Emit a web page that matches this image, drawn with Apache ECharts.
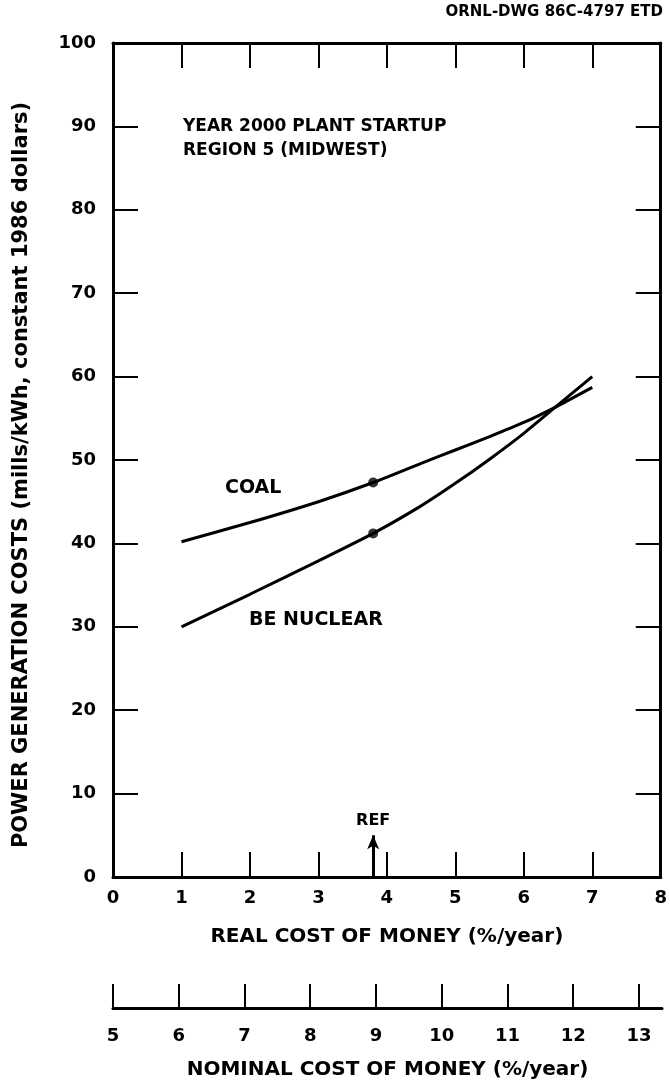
<!DOCTYPE html>
<html>
<head>
<meta charset="utf-8">
<style>
  html, body { margin: 0; padding: 0; background: #ffffff; }
  #chart { width: 670px; height: 1084px; }
</style>
<script src="https://cdn.jsdelivr.net/npm/echarts@6/dist/echarts.min.js"></script>
</head>
<body>
<div id="chart"></div>
<script>
// Real cost of money (%/year) at which costs are plotted
const realRate = [1, 2, 3, 3.8, 4.5, 5, 5.5, 6, 6.5, 7];
// Power generation costs, mills/kWh (constant 1986 dollars)
const coalCost    = [40.2, 42.5, 45.0, 47.3, 49.6, 51.2, 52.8, 54.5, 56.5, 58.7];
const nuclearCost = [30.0, 33.9, 37.9, 41.2, 44.5, 47.2, 50.1, 53.2, 56.6, 60.0];
// Reference case (marked with a dot on each curve and an arrow on the axis)
const refIndex = 3;
const refRate = realRate[refIndex];
const refArrowHeight = 5;

// Axis ranges
const realAxis = { min: 0, max: 8, interval: 1 };
const costAxis = { min: 0, max: 100, interval: 10 };
const nominalAxis = { min: 5, max: 13.35, interval: 1 };

const FONT = 'DejaVu Sans';
const INK = '#000000';

const pairs = (xs, ys) => xs.map((x, i) => [x, ys[i]]);
const boldFont = (size) => 'bold ' + size + 'px "' + FONT + '"';

const frameAxis = {
  axisLine: { show: true, onZero: false, lineStyle: { color: INK, width: 3 } },
  axisTick: { show: true, inside: true, length: 25, lineStyle: { color: INK, width: 2 } },
  splitLine: { show: false }
};
const tickLabel = { color: INK, fontFamily: FONT, fontWeight: 'bold', fontSize: 18 };
const axisTitle = { color: INK, fontFamily: FONT, fontWeight: 'bold', fontSize: 20 };

const chart = echarts.init(document.getElementById('chart'), null, { renderer: 'canvas' });

chart.setOption({
  backgroundColor: '#ffffff',
  animation: false,
  textStyle: { fontFamily: FONT, color: INK },
  grid: [
    { left: 113, top: 43, width: 549, height: 834 },
    { left: 113, top: 984, width: 549, height: 24 }
  ],
  xAxis: [
    Object.assign({}, frameAxis, {
      gridIndex: 0, type: 'value', position: 'bottom',
      min: realAxis.min, max: realAxis.max, interval: realAxis.interval,
      axisLabel: Object.assign({ margin: 12 }, tickLabel),
      name: 'REAL COST OF MONEY (%/year)', nameLocation: 'middle', nameGap: 50,
      nameTextStyle: axisTitle
    }),
    Object.assign({}, frameAxis, {
      gridIndex: 0, type: 'value', position: 'top',
      min: realAxis.min, max: realAxis.max, interval: realAxis.interval,
      axisLabel: { show: false }
    }),
    {
      gridIndex: 1, type: 'value', position: 'bottom',
      min: nominalAxis.min, max: nominalAxis.max, interval: nominalAxis.interval,
      axisLine: { show: true, onZero: false, lineStyle: { color: INK, width: 3 } },
      axisTick: { show: true, inside: true, length: 24, lineStyle: { color: INK, width: 2 } },
      splitLine: { show: false },
      axisLabel: Object.assign({ margin: 19, showMaxLabel: false }, tickLabel),
      name: 'NOMINAL COST OF MONEY (%/year)', nameLocation: 'middle', nameGap: 52,
      nameTextStyle: axisTitle
    }
  ],
  yAxis: [
    Object.assign({}, frameAxis, {
      gridIndex: 0, type: 'value', position: 'left',
      min: costAxis.min, max: costAxis.max, interval: costAxis.interval,
      axisLabel: Object.assign({ margin: 17 }, tickLabel)
    }),
    Object.assign({}, frameAxis, {
      gridIndex: 0, type: 'value', position: 'right',
      min: costAxis.min, max: costAxis.max, interval: costAxis.interval,
      axisLabel: { show: false }
    }),
    {
      gridIndex: 1, type: 'value', min: 0, max: 1,
      axisLine: { show: false }, axisTick: { show: false },
      axisLabel: { show: false }, splitLine: { show: false }
    }
  ],
  series: [
    {
      name: 'COAL', type: 'line', xAxisIndex: 0, yAxisIndex: 0,
      data: pairs(realRate, coalCost), smooth: 0.2, showSymbol: false,
      lineStyle: { color: INK, width: 3 }
    },
    {
      name: 'BE NUCLEAR', type: 'line', xAxisIndex: 0, yAxisIndex: 0,
      data: pairs(realRate, nuclearCost), smooth: 0.2, showSymbol: false,
      lineStyle: { color: INK, width: 3 },
      markLine: {
        silent: true, symbol: ['none', 'arrow'], symbolSize: [9, 14],
        lineStyle: { color: INK, width: 3, type: 'solid' },
        label: { show: true, position: 'end', formatter: 'REF', color: INK,
                 fontFamily: FONT, fontWeight: 'bold', fontSize: 16, distance: 6 },
        data: [[{ coord: [refRate, costAxis.min] }, { coord: [refRate, refArrowHeight] }]]
      }
    },
    {
      name: 'REF', type: 'scatter', xAxisIndex: 0, yAxisIndex: 0,
      data: [[refRate, coalCost[refIndex]], [refRate, nuclearCost[refIndex]]],
      symbol: 'circle', symbolSize: 10, itemStyle: { color: INK }
    },
    // keeps the nominal-rate axis grid alive
    { type: 'line', xAxisIndex: 2, yAxisIndex: 2, data: [], silent: true }
  ],
  graphic: [
    { type: 'text', right: 7, top: 5,
      style: { text: 'ORNL-DWG 86C-4797 ETD', fill: INK, font: boldFont(15) } },
    { type: 'text', x: 22, y: 475, rotation: Math.PI / 2,
      style: { text: 'POWER GENERATION COSTS (mills/kWh, constant 1986 dollars)', fill: INK,
               font: boldFont(21), textAlign: 'center', textVerticalAlign: 'middle' } },
    { type: 'text', left: 183, top: 118,
      style: { text: 'YEAR 2000 PLANT STARTUP', fill: INK, font: boldFont(17) } },
    { type: 'text', left: 183, top: 142,
      style: { text: 'REGION 5 (MIDWEST)', fill: INK, font: boldFont(17) } },
    { type: 'text', left: 225, top: 479,
      style: { text: 'COAL', fill: INK, font: boldFont(19) } },
    { type: 'text', left: 249, top: 611,
      style: { text: 'BE NUCLEAR', fill: INK, font: boldFont(19) } }
  ]
});
</script>
</body>
</html>
